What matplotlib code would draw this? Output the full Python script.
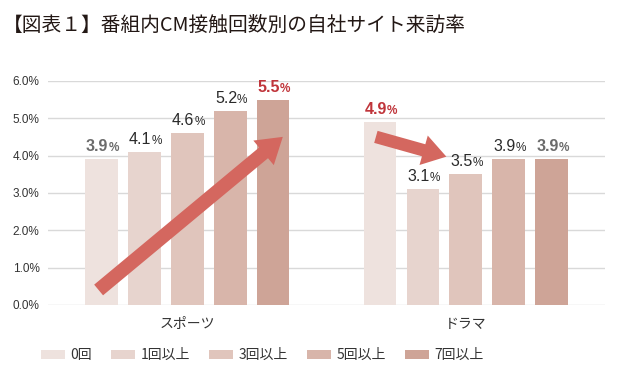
import matplotlib.pyplot as plt
import numpy as np

plt.rcParams['font.family'] = ['Noto Sans CJK JP', 'DejaVu Sans']

title = "【図表１】番組内CM接触回数別の自社サイト来訪率"
categories = ["スポーツ", "ドラマ"]
series = ["0回", "1回以上", "3回以上", "5回以上", "7回以上"]
sports = [3.9, 4.1, 4.6, 5.2, 5.5]
drama = [4.9, 3.1, 3.5, 3.9, 3.9]
yticks = [0, 1, 2, 3, 4, 5, 6]

colors = ["#eee2de", "#e7d4ce", "#e0c5bc", "#d8b5aa", "#cea497"]
# label look per bar: g = gray bold, d = dark regular, r = red bold
label_kind = [["g", "d", "d", "d", "r"], ["r", "d", "d", "d", "g"]]
kind_style = {"g": ("#6b6b6b", "bold"), "d": ("#2a2a2a", "normal"), "r": ("#c0353b", "bold")}

fig = plt.figure(figsize=(6.22, 3.85), dpi=100)
ax = fig.add_axes([0.077, 0.208, 0.896, 0.582])

x = np.arange(len(categories))
step = 0.154
width = 0.118
vals = np.array([sports, drama])
for i, name in enumerate(series):
    xs = x + (i - 2) * step
    ax.bar(xs, vals[:, i], width=width, color=colors[i], label=name, zorder=2)
    for j in range(len(categories)):
        c, w = kind_style[label_kind[j][i]]
        v = vals[j, i]
        ax.annotate(f"{v:.1f}", (xs[j], v), xytext=(5, 3.5), textcoords="offset points",
                    ha="right", va="bottom", color=c, fontweight=w, fontsize=11.5,
                    family="Liberation Sans")
        ax.annotate("%", (xs[j], v), xytext=(5, 3.5), textcoords="offset points",
                    ha="left", va="bottom", color=c, fontweight=w, fontsize=8.5,
                    family="Liberation Sans")

# trend arrows
arrow_c = "#d4675f"
bx0 = x[0] + np.array([-2, 2]) * step
ax.annotate("", xy=(bx0[1] + 0.035, 4.5), xytext=(bx0[0] - 0.01, 0.4),
            arrowprops=dict(arrowstyle="simple,head_length=0.9,head_width=1.15,tail_width=0.5",
                            mutation_scale=20, color=arrow_c, lw=0, shrinkA=0, shrinkB=0),
            zorder=3)
bx1 = x[1] + np.array([-2, 0]) * step
ax.annotate("", xy=(bx1[1] - 0.07, 3.97), xytext=(bx1[0] - 0.015, 4.5),
            arrowprops=dict(arrowstyle="simple,head_length=0.85,head_width=1.1,tail_width=0.45",
                            mutation_scale=20, color=arrow_c, lw=0, shrinkA=0, shrinkB=0),
            zorder=3)

ax.set_xlim(-0.5, 1.5)
ax.set_ylim(0, 6)
ax.set_yticks(yticks)
ax.set_yticklabels([f"{t:.1f}%" for t in yticks], family="Liberation Sans", fontsize=8.5,
                   color="#333333")
ax.set_xticks(x)
ax.set_xticklabels(categories, fontsize=10, color="#333333")
ax.tick_params(axis="both", length=0, pad=6)
ax.tick_params(axis="x", pad=9)
ax.grid(axis="y", color="#d9d9d9", lw=1, zorder=0)
for s in ax.spines.values():
    s.set_visible(False)

fig.text(0.005, 0.935, title, fontsize=14.2, color="#231815", va="center")

fig.legend(loc="center", bbox_to_anchor=(0.422, 0.077), ncol=5, frameon=False,
           fontsize=10, handlelength=1.7, handleheight=0.6, columnspacing=1.4,
           handletextpad=0.4, labelcolor="#333333")

fig.savefig("out.png", dpi=100)
